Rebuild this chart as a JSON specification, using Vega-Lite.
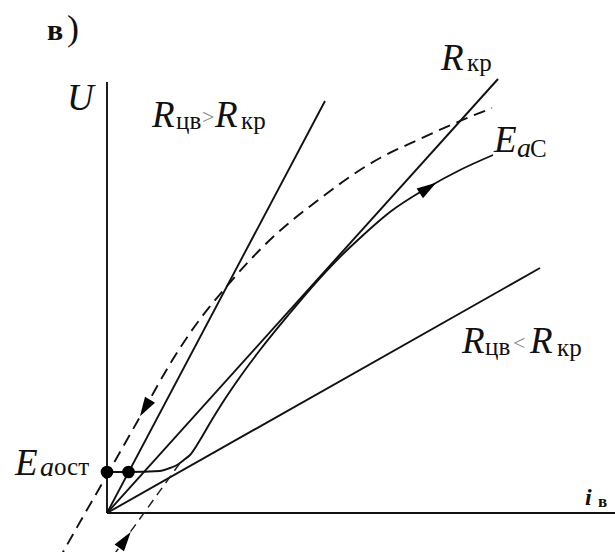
{
  "$schema": "https://vega.github.io/schema/vega-lite/v6.json",
  "width": 615,
  "height": 552,
  "autosize": {"type": "none"},
  "padding": 0,
  "background": "white",
  "config": {"view": {"stroke": null}, "text": {"font": "Liberation Serif"}},
  "datasets": {
    "straight": [
      {"id": "axisU", "order": 0, "x": 0, "y": 0},
      {"id": "axisU", "order": 1, "x": 0, "y": 86.2},
      {"id": "axisI", "order": 0, "x": 0, "y": 0},
      {"id": "axisI", "order": 1, "x": 101.6, "y": 0},
      {"id": "Rgt", "order": 0, "x": 0, "y": 0},
      {"id": "Rgt", "order": 1, "x": 43.6, "y": 82.4},
      {"id": "Rkr", "order": 0, "x": 0, "y": 0},
      {"id": "Rkr", "order": 1, "x": 78.2, "y": 86.8},
      {"id": "Rlt", "order": 0, "x": 0, "y": 0},
      {"id": "Rlt", "order": 1, "x": 86.6, "y": 49}
    ],
    "curve": [
      {"x": 0, "y": 8.2}, {"x": 4.2, "y": 8.2}, {"x": 10.6, "y": 8.4},
      {"x": 12.6, "y": 9}, {"x": 14, "y": 9.6}, {"x": 15.6, "y": 10.8},
      {"x": 16.6, "y": 11.6}, {"x": 18.6, "y": 14.6}, {"x": 20.6, "y": 18},
      {"x": 23.2, "y": 22.2}, {"x": 26.6, "y": 27.2}, {"x": 30.6, "y": 32.6},
      {"x": 36.6, "y": 40}, {"x": 41, "y": 45.2}, {"x": 46, "y": 50.6},
      {"x": 50.6, "y": 55}, {"x": 56.6, "y": 60.2}, {"x": 64, "y": 65},
      {"x": 70.6, "y": 68.6}, {"x": 77.2, "y": 71.6}
    ],
    "dashUpper": [
      {"x": -9.8, "y": -9.6}, {"x": -5.4, "y": -1.8}, {"x": 0, "y": 7.6},
      {"x": 7.6, "y": 21}, {"x": 12.6, "y": 29.8}, {"x": 16.6, "y": 36},
      {"x": 24, "y": 45.4}, {"x": 33.2, "y": 55.2}, {"x": 41.2, "y": 61.8},
      {"x": 54.6, "y": 71}, {"x": 62.6, "y": 74.8}, {"x": 70.6, "y": 78.4},
      {"x": 77, "y": 81}
    ],
    "dashLower": [
      {"x": 1.2, "y": -8.6}, {"x": 14.6, "y": 10}
    ],
    "dots": [
      {"x": 0, "y": 8.2}, {"x": 4.3, "y": 8.2}
    ],
    "arrows": [
      {"x": 7.6, "y": 21, "dir": 211},
      {"x": 3.6, "y": -5.4, "dir": 36},
      {"x": 64.2, "y": 65, "dir": 57}
    ],
    "bigItalic": [
      {"t": "U", "x": -8, "y": 80.6},
      {"t": "R", "x": 9, "y": 77.2},
      {"t": "R", "x": 21.6, "y": 77.2},
      {"t": "R", "x": 66.8, "y": 88.6},
      {"t": "E", "x": 77.4, "y": 72.2},
      {"t": "R", "x": 71, "y": 32},
      {"t": "R", "x": 84.6, "y": 32},
      {"t": "E", "x": -18.4, "y": 7.6}
    ],
    "subUpright": [
      {"t": "цв", "x": 13.8, "y": 76.8},
      {"t": "кр", "x": 26.8, "y": 76.8},
      {"t": "кр", "x": 72, "y": 88.4},
      {"t": "цв", "x": 75.6, "y": 31.6},
      {"t": "кр", "x": 90, "y": 31.4},
      {"t": "ост", "x": -10.6, "y": 7.6},
      {"t": "С", "x": 84.6, "y": 71.2}
    ],
    "subItalic": [
      {"t": "a", "x": 82, "y": 71.2},
      {"t": "a", "x": -13.4, "y": 7.4}
    ],
    "signs": [
      {"t": ">", "x": 19, "y": 77.8},
      {"t": "<", "x": 81.2, "y": 32.6}
    ]
  },
  "layer": [
    {
      "data": {"name": "straight"},
      "mark": {"type": "line", "color": "#111", "strokeWidth": 1.9},
      "encoding": {
        "x": {"field": "x", "type": "quantitative", "scale": {"domain": [-21.4, 101.6], "nice": false, "zero": false}, "axis": null},
        "y": {"field": "y", "type": "quantitative", "scale": {"domain": [-7.8, 102.6], "nice": false, "zero": false}, "axis": null},
        "detail": {"field": "id"},
        "order": {"field": "order"}
      }
    },
    {
      "data": {"name": "curve"},
      "mark": {"type": "line", "color": "#111", "strokeWidth": 1.9, "interpolate": "monotone"},
      "encoding": {
        "x": {"field": "x", "type": "quantitative", "scale": {"domain": [-21.4, 101.6], "nice": false, "zero": false}, "axis": null},
        "y": {"field": "y", "type": "quantitative", "scale": {"domain": [-7.8, 102.6], "nice": false, "zero": false}, "axis": null}
      }
    },
    {
      "data": {"name": "dashUpper"},
      "mark": {"type": "line", "color": "#111", "strokeWidth": 1.9, "interpolate": "monotone", "strokeDash": [12, 7]},
      "encoding": {
        "x": {"field": "x", "type": "quantitative", "scale": {"domain": [-21.4, 101.6], "nice": false, "zero": false}, "axis": null},
        "y": {"field": "y", "type": "quantitative", "scale": {"domain": [-7.8, 102.6], "nice": false, "zero": false}, "axis": null}
      }
    },
    {
      "data": {"name": "dashLower"},
      "mark": {"type": "line", "color": "#222", "strokeWidth": 1.5, "strokeDash": [9, 6]},
      "encoding": {
        "x": {"field": "x", "type": "quantitative", "scale": {"domain": [-21.4, 101.6], "nice": false, "zero": false}, "axis": null},
        "y": {"field": "y", "type": "quantitative", "scale": {"domain": [-7.8, 102.6], "nice": false, "zero": false}, "axis": null}
      }
    },
    {
      "data": {"name": "dots"},
      "mark": {"type": "point", "shape": "circle", "filled": true, "color": "#000", "size": 160, "opacity": 1},
      "encoding": {
        "x": {"field": "x", "type": "quantitative", "scale": {"domain": [-21.4, 101.6], "nice": false, "zero": false}, "axis": null},
        "y": {"field": "y", "type": "quantitative", "scale": {"domain": [-7.8, 102.6], "nice": false, "zero": false}, "axis": null}
      }
    },
    {
      "data": {"name": "arrows"},
      "mark": {"type": "point", "shape": "M0,-1L0.6,1L-0.6,1Z", "filled": true, "color": "#000", "size": 380, "opacity": 1},
      "encoding": {
        "x": {"field": "x", "type": "quantitative", "scale": {"domain": [-21.4, 101.6], "nice": false, "zero": false}, "axis": null},
        "y": {"field": "y", "type": "quantitative", "scale": {"domain": [-7.8, 102.6], "nice": false, "zero": false}, "axis": null},
        "angle": {"field": "dir", "type": "quantitative", "scale": null}
      }
    },
    {
      "data": {"name": "bigItalic"},
      "mark": {"type": "text", "fontSize": 37, "fontStyle": "italic", "align": "left", "baseline": "alphabetic", "color": "#111"},
      "encoding": {
        "x": {"field": "x", "type": "quantitative", "scale": {"domain": [-21.4, 101.6], "nice": false, "zero": false}, "axis": null},
        "y": {"field": "y", "type": "quantitative", "scale": {"domain": [-7.8, 102.6], "nice": false, "zero": false}, "axis": null},
        "text": {"field": "t"}
      }
    },
    {
      "data": {"name": "subUpright"},
      "mark": {"type": "text", "fontSize": 25, "align": "left", "baseline": "alphabetic", "color": "#111"},
      "encoding": {
        "x": {"field": "x", "type": "quantitative", "scale": {"domain": [-21.4, 101.6], "nice": false, "zero": false}, "axis": null},
        "y": {"field": "y", "type": "quantitative", "scale": {"domain": [-7.8, 102.6], "nice": false, "zero": false}, "axis": null},
        "text": {"field": "t"}
      }
    },
    {
      "data": {"name": "subItalic"},
      "mark": {"type": "text", "fontSize": 28, "fontStyle": "italic", "align": "left", "baseline": "alphabetic", "color": "#111"},
      "encoding": {
        "x": {"field": "x", "type": "quantitative", "scale": {"domain": [-21.4, 101.6], "nice": false, "zero": false}, "axis": null},
        "y": {"field": "y", "type": "quantitative", "scale": {"domain": [-7.8, 102.6], "nice": false, "zero": false}, "axis": null},
        "text": {"field": "t"}
      }
    },
    {
      "data": {"name": "signs"},
      "mark": {"type": "text", "fontSize": 22, "align": "left", "baseline": "alphabetic", "color": "#888"},
      "encoding": {
        "x": {"field": "x", "type": "quantitative", "scale": {"domain": [-21.4, 101.6], "nice": false, "zero": false}, "axis": null},
        "y": {"field": "y", "type": "quantitative", "scale": {"domain": [-7.8, 102.6], "nice": false, "zero": false}, "axis": null},
        "text": {"field": "t"}
      }
    },
    {
      "data": {"values": [{"t": "в", "x": -12, "y": 94.6}]},
      "mark": {"type": "text", "fontSize": 30, "fontWeight": "bold", "align": "left", "baseline": "alphabetic", "color": "#111"},
      "encoding": {
        "x": {"field": "x", "type": "quantitative", "scale": {"domain": [-21.4, 101.6], "nice": false, "zero": false}, "axis": null},
        "y": {"field": "y", "type": "quantitative", "scale": {"domain": [-7.8, 102.6], "nice": false, "zero": false}, "axis": null},
        "text": {"field": "t"}
      }
    },
    {
      "data": {"values": [{"t": ")", "x": -8, "y": 94.6}]},
      "mark": {"type": "text", "fontSize": 36, "align": "left", "baseline": "alphabetic", "color": "#111"},
      "encoding": {
        "x": {"field": "x", "type": "quantitative", "scale": {"domain": [-21.4, 101.6], "nice": false, "zero": false}, "axis": null},
        "y": {"field": "y", "type": "quantitative", "scale": {"domain": [-7.8, 102.6], "nice": false, "zero": false}, "axis": null},
        "text": {"field": "t"}
      }
    },
    {
      "data": {"values": [{"t": "i", "x": 95.6, "y": 1.6}]},
      "mark": {"type": "text", "fontSize": 24, "fontStyle": "italic", "fontWeight": "bold", "align": "left", "baseline": "alphabetic", "color": "#111"},
      "encoding": {
        "x": {"field": "x", "type": "quantitative", "scale": {"domain": [-21.4, 101.6], "nice": false, "zero": false}, "axis": null},
        "y": {"field": "y", "type": "quantitative", "scale": {"domain": [-7.8, 102.6], "nice": false, "zero": false}, "axis": null},
        "text": {"field": "t"}
      }
    },
    {
      "data": {"values": [{"t": "в", "x": 98.2, "y": 1.2}]},
      "mark": {"type": "text", "fontSize": 17, "fontWeight": "bold", "align": "left", "baseline": "alphabetic", "color": "#111"},
      "encoding": {
        "x": {"field": "x", "type": "quantitative", "scale": {"domain": [-21.4, 101.6], "nice": false, "zero": false}, "axis": null},
        "y": {"field": "y", "type": "quantitative", "scale": {"domain": [-7.8, 102.6], "nice": false, "zero": false}, "axis": null},
        "text": {"field": "t"}
      }
    }
  ]
}
